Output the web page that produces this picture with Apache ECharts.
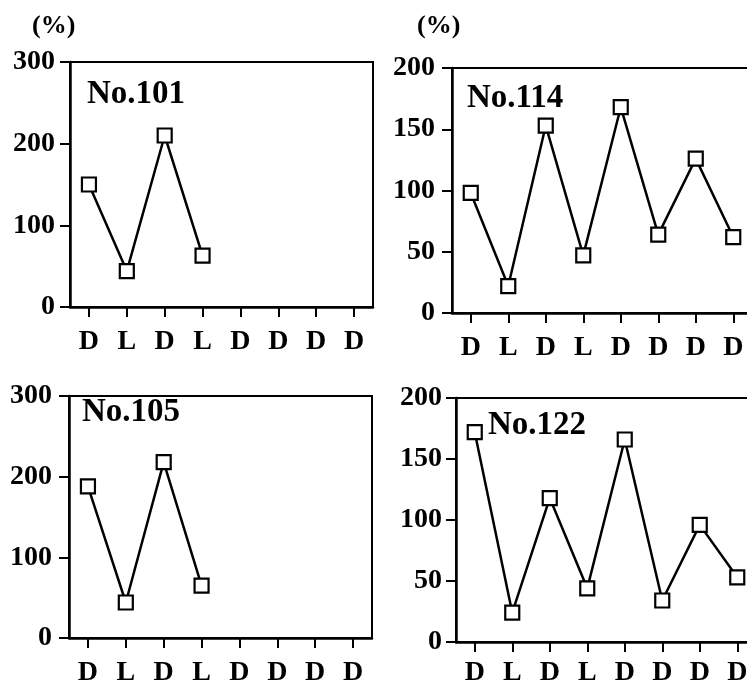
<!DOCTYPE html>
<html>
<head>
<meta charset="utf-8">
<script src="https://cdn.jsdelivr.net/npm/echarts@6/dist/echarts.min.js"></script>
<style>
html,body{margin:0;padding:0;background:#fff;}
#c{width:747px;height:688px;}
</style>
</head>
<body>
<div id="c"></div>
<script>
// ---- data ----
var categories = ['D', 'L', 'D', 'L', 'D', 'D', 'D', 'D'];
var panelNames = ['No.101', 'No.114', 'No.105', 'No.122'];
var s101 = [150, 44, 210, 63, null, null, null, null];
var s114 = [98, 22, 153, 47, 168, 64, 126, 62];
var s105 = [188, 44, 218, 65, null, null, null, null];
var s122 = [172, 24, 118, 44, 166, 34, 96, 53];
var yMaxLeft = 300, yIntLeft = 100;
var yMaxRight = 200, yIntRight = 50;
var unitLabel = '(%)';

// ---- layout ----
var FONT = '"Liberation Serif", "Times New Roman", serif';
var grids = [
  {left: 70, top: 62, width: 303, height: 245},
  {left: 452, top: 68, width: 300, height: 245},
  {left: 69, top: 396, width: 303, height: 242},
  {left: 456, top: 398, width: 300, height: 244}
];
var seriesData = [s101, s114, s105, s122];
var yMax = [yMaxLeft, yMaxRight, yMaxLeft, yMaxRight];
var yInt = [yIntLeft, yIntRight, yIntLeft, yIntRight];
var xMargin = [21, 21, 21, 17];
var yMargin = [15, 17, 17, 14];
var labelPos = [
  {left: 87, top: 78},
  {left: 467, top: 82},
  {left: 82, top: 396},
  {left: 488, top: 409}
];

var option = {
  backgroundColor: '#fff',
  animation: false,
  title: panelNames.map(function (n, i) {
    return {
      text: n, left: labelPos[i].left, top: labelPos[i].top, padding: 0,
      textStyle: {fontFamily: FONT, fontWeight: 'bold', fontSize: 33, color: '#000'}
    };
  }).concat([
    {text: unitLabel, left: 32, top: 13, padding: 0,
     textStyle: {fontFamily: FONT, fontWeight: 'bold', fontSize: 26, color: '#000'}},
    {text: unitLabel, left: 417, top: 13, padding: 0,
     textStyle: {fontFamily: FONT, fontWeight: 'bold', fontSize: 26, color: '#000'}}
  ]),
  grid: grids.map(function (g) {
    return {left: g.left, top: g.top, width: g.width, height: g.height,
            show: true, borderColor: '#000', borderWidth: 2,
            containLabel: false, outerBoundsMode: 'none'};
  }),
  xAxis: grids.map(function (g, i) {
    return {
      type: 'category', gridIndex: i, data: categories, boundaryGap: true,
      axisLine: {show: true, lineStyle: {color: '#000', width: 2.5}},
      axisTick: {show: true, inside: false, alignWithLabel: true, interval: 0, length: 10,
                 lineStyle: {color: '#000', width: 2}},
      axisLabel: {fontFamily: FONT, fontWeight: 'bold', fontSize: 28, color: '#000', margin: xMargin[i], interval: 0},
      splitLine: {show: false}
    };
  }),
  yAxis: grids.map(function (g, i) {
    return {
      type: 'value', gridIndex: i, min: 0, max: yMax[i], interval: yInt[i],
      axisLine: {show: true, lineStyle: {color: '#000', width: 2.5}},
      axisTick: {show: true, length: 10, lineStyle: {color: '#000', width: 2}},
      axisLabel: {fontFamily: FONT, fontWeight: 'bold', fontSize: 28, color: '#000', margin: yMargin[i]},
      splitLine: {show: false}
    };
  }),
  series: seriesData.map(function (d, i) {
    return {
      type: 'line', xAxisIndex: i, yAxisIndex: i, data: d,
      symbol: 'rect', symbolSize: 14, connectNulls: false,
      lineStyle: {color: '#000', width: 2.5},
      itemStyle: {color: '#fff', borderColor: '#000', borderWidth: 2.2},
      z: 3
    };
  })
};
var chart = echarts.init(document.getElementById('c'), null, {renderer: 'canvas'});
chart.setOption(option);
</script>
</body>
</html>
